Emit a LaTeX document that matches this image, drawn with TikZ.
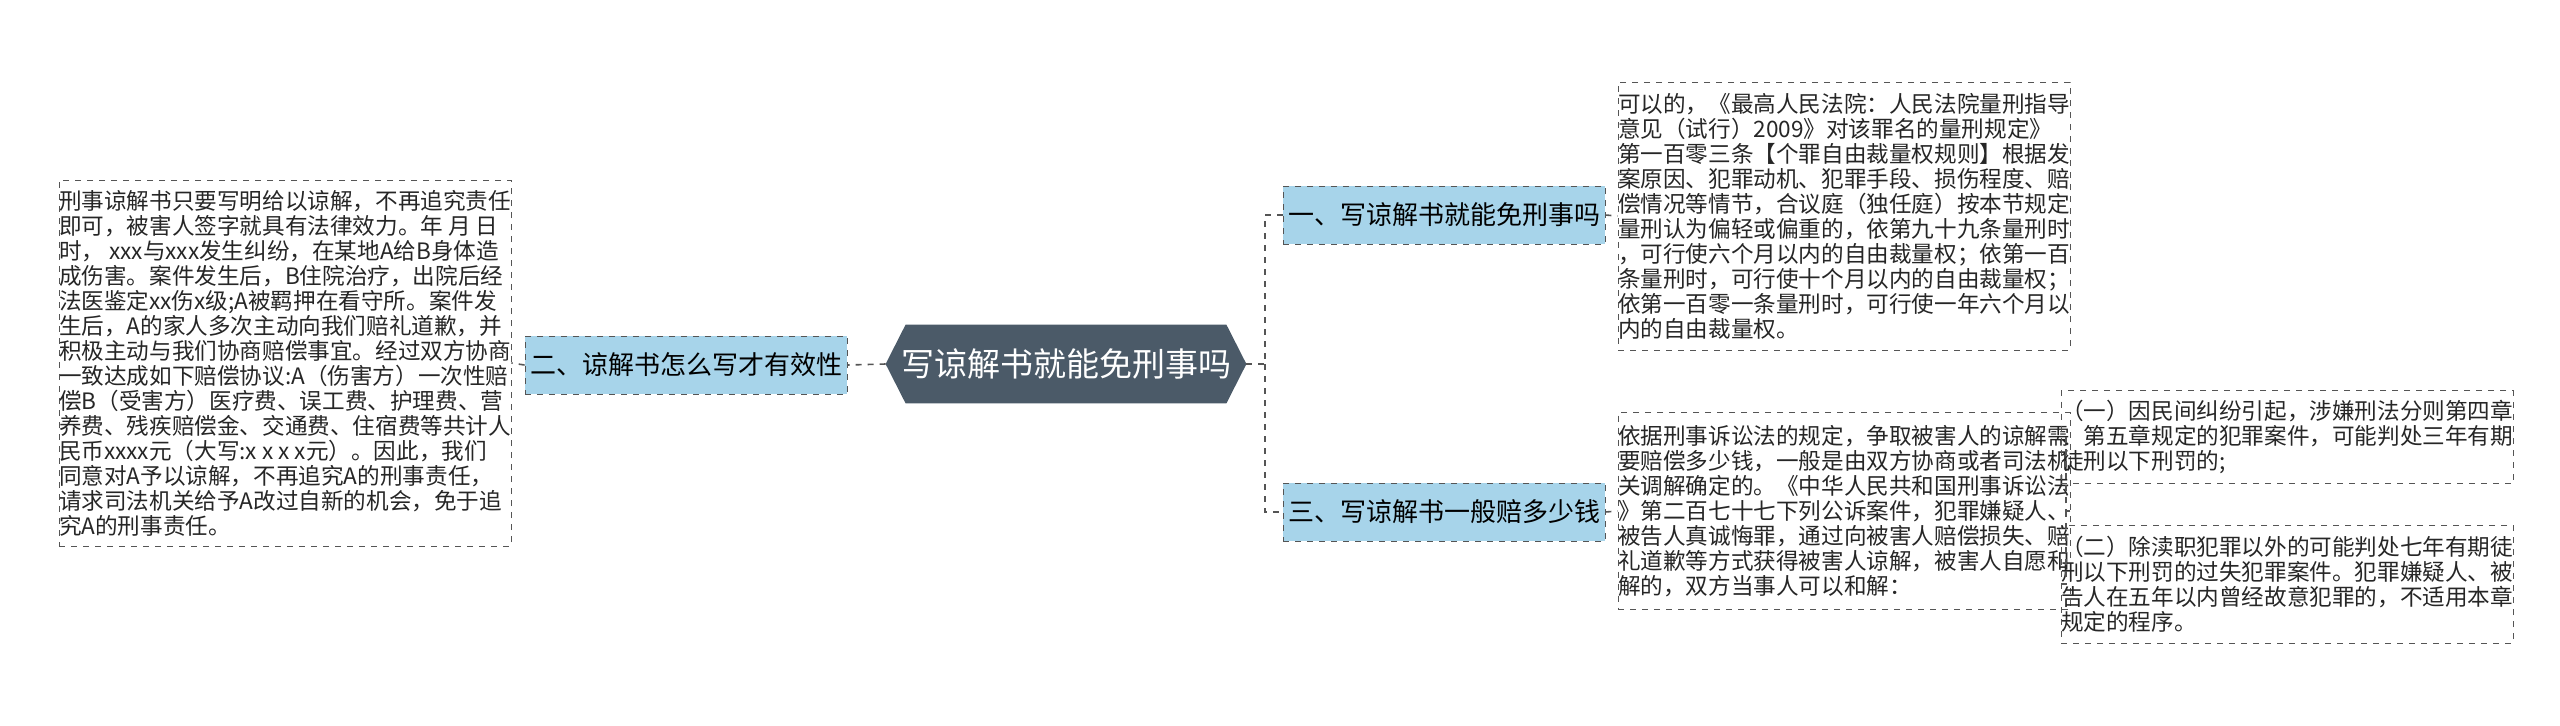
\documentclass[tikz,border=0pt]{standalone}
\usepackage{fontspec}
\setmainfont{Noto Sans CJK SC}
\usetikzlibrary{positioning}
\definecolor{rootgray}{HTML}{4B5A68}
\definecolor{topicblue}{HTML}{A7D4EA}
\definecolor{linegray}{HTML}{555555}
\tikzset{
  topic/.style={draw=linegray, dashed, fill=topicblue, minimum width=161pt, minimum height=29pt, font=\fontsize{13pt}{15pt}\selectfont, inner sep=0pt},
  note/.style={draw=linegray, dashed, minimum width=203.5pt, align=left, font=\fontsize{11.3pt}{12.5pt}\selectfont, inner sep=0pt, text=black!85},
  link/.style={draw=linegray, dashed, thick}
}
\begin{document}
\begin{tikzpicture}[x=0.5pt, y=-0.5pt]
    \useasboundingbox (0,0) rectangle (2560,725);
    % centre topic
    \node [minimum width=180pt, minimum height=39pt, text=white, font=\fontsize{16.5pt}{18pt}\selectfont] (root) at (1066,364) {写谅解书就能免刑事吗};
    \fill [rootgray] (root.west) -- ([xshift=10pt]root.north west) -- ([xshift=-10pt]root.north east) -- (root.east) -- ([xshift=-10pt]root.south east) -- ([xshift=10pt]root.south west) -- cycle;
    \node [minimum width=180pt, minimum height=39pt, text=white, font=\fontsize{16.5pt}{18pt}\selectfont] at (1066,364) {写谅解书就能免刑事吗};

    % topics
    \node [topic] (q2) at (686,365) {二、谅解书怎么写才有效性};
    \node [topic] (q1) at (1444,215) {一、写谅解书就能免刑事吗};
    \node [topic] (q3) at (1444,512) {三、写谅解书一般赔多少钱};

    % notes
    \node [note, minimum height=183pt] (n2) at (285,363) {刑事谅解书只要写明给以谅解，不再追究责任\\即可，被害人签字就具有法律效力。年 月 日\\时， xxx与xxx发生纠纷，在某地A给B身体造\\成伤害。案件发生后，B住院治疗，出院后经\\法医鉴定xx伤x级;A被羁押在看守所。案件发\\生后，A的家人多次主动向我们赔礼道歉，并\\积极主动与我们协商赔偿事宜。经过双方协商\\一致达成如下赔偿协议:A（伤害方）一次性赔\\偿B（受害方）医疗费、误工费、护理费、营\\养费、残疾赔偿金、交通费、住宿费等共计人\\民币xxxx元（大写:x x x x元）。因此，我们\\同意对A予以谅解，不再追究A的刑事责任，\\请求司法机关给予A改过自新的机会，免于追\\究A的刑事责任。};
    \node [note, minimum height=134pt] (n1) at (1844,216) {可以的，《最高人民法院：人民法院量刑指导\\意见（试行）2009》对该罪名的量刑规定》\\第一百零三条【个罪自由裁量权规则】根据发\\案原因、犯罪动机、犯罪手段、损伤程度、赔\\偿情况等情节，合议庭（独任庭）按本节规定\\量刑认为偏轻或偏重的，依第九十九条量刑时\\，可行使六个月以内的自由裁量权；依第一百\\条量刑时，可行使十个月以内的自由裁量权；\\依第一百零一条量刑时，可行使一年六个月以\\内的自由裁量权。};
    \node [note, minimum height=98.5pt] (n3) at (1844,511) {依据刑事诉讼法的规定，争取被害人的谅解需\\要赔偿多少钱，一般是由双方协商或者司法机\\关调解确定的。《中华人民共和国刑事诉讼法\\》第二百七十七下列公诉案件，犯罪嫌疑人、\\被告人真诚悔罪，通过向被害人赔偿损失、赔\\礼道歉等方式获得被害人谅解，被害人自愿和\\解的，双方当事人可以和解：};
    \node [note, minimum height=46.5pt] (r1) at (2287,437) {（一）因民间纠纷引起，涉嫌刑法分则第四章\\、第五章规定的犯罪案件，可能判处三年有期\\徒刑以下刑罚的;};
    \node [note, minimum height=59pt] (r2) at (2287,584) {（二）除渎职犯罪以外的可能判处七年有期徒\\刑以下刑罚的过失犯罪案件。犯罪嫌疑人、被\\告人在五年以内曾经故意犯罪的，不适用本章\\规定的程序。};

    % connectors
    \coordinate (rj) at (1265,364);
    \coordinate (nj) at (2066,511);
    \draw [link] (root.east) -- (rj) |- (q1.west);
    \draw [link] (rj) |- (q3.west);
    \draw [link] (root.west) -- (q2.east);
    \draw [link] (q2.west) -- (n2.east);
    \draw [link] (q1.east) -- (n1.west);
    \draw [link] (q3.east) -- (n3.west);
    \draw [link] (n3.east) -- (nj) |- (r1.west);
    \draw [link] (nj) |- (r2.west);
\end{tikzpicture}
\end{document}
